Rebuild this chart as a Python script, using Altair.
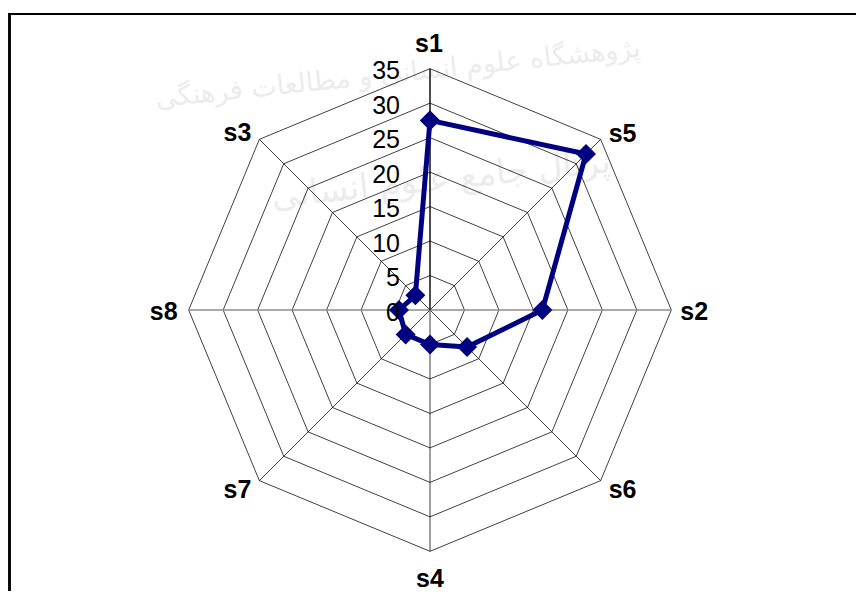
import altair as alt
import pandas as pd

# ---- data ----
categories = ["s1", "s5", "s2", "s6", "s4", "s7", "s8", "s3"]
values = [27.5, 32, 16.3, 7.6, 5, 5, 4.5, 3]
ticks = [0, 5, 10, 15, 20, 25, 30, 35]
watermark_lines = ["پژوهشگاه علوم انسانی و مطالعات فرهنگی", "پرتال جامع علوم انسانی"]

N = len(categories)
R = max(ticks)

# ---- geometry of the canvas (pixels per data unit, centre) ----
K = 6.895
W, H = 848, 583
CX, CY = 422, 302
xs = alt.Scale(domain=[-CX / K, (W - CX) / K], nice=False, zero=False)
ys = alt.Scale(domain=[-(H - CY) / K, CY / K], nice=False, zero=False)

FONT = "Liberation Sans"
NAVY = "#000080"

ang = f"2*PI*datum.i/{N}"


def polar(chart, rfield):
    return chart.transform_calculate(
        a=ang
    ).transform_calculate(
        x=f"datum.{rfield}*sin(datum.a)", y=f"datum.{rfield}*cos(datum.a)"
    )


X = alt.X("x:Q", scale=xs, axis=None)
Y = alt.Y("y:Q", scale=ys, axis=None)

# rings (octagons)
ring_rows = [{"r": t, "i": i} for t in ticks if t > 0 for i in range(N + 1)]
rings = polar(alt.Chart(pd.DataFrame(ring_rows)), "r").mark_line(
    stroke="#000000", strokeWidth=0.75
).encode(x=X, y=Y, detail="r:N", order="i:Q")

# spokes
spoke_df = pd.DataFrame({"cat": categories, "i": list(range(N)), "r": [R] * N})


def spokes(filt, color, width):
    return polar(alt.Chart(spoke_df), "r").transform_filter(filt).transform_calculate(
        x0="0", y0="0"
    ).mark_rule(stroke=color, strokeWidth=width).encode(
        x=alt.X("x0:Q", scale=xs, axis=None),
        y=alt.Y("y0:Q", scale=ys, axis=None),
        x2="x:Q",
        y2="y:Q",
    )


spk_thin = spokes(f"datum.i % 2 == 1 || datum.i == {N // 2}", "#000000", 0.75)
spk_h = spokes(f"datum.i == {N // 4} || datum.i == {3 * N // 4}", "#8c8c8c", 1.6)
spk_v = spokes("datum.i == 0", "#000000", 1.4)

# series (closed polygon)
ser_df = pd.DataFrame({
    "cat": categories + [categories[0]],
    "v": values + [values[0]],
    "i": list(range(N)) + [N],
})
line = polar(alt.Chart(ser_df), "v").mark_line(
    color=NAVY, strokeWidth=5, strokeJoin="round"
).encode(x=X, y=Y, order="i:Q")
pts = polar(alt.Chart(ser_df), "v").mark_point(
    shape="diamond", filled=True, size=400, color=NAVY, opacity=1
).encode(x=X, y=Y)

# value labels
tick_df = pd.DataFrame({"t": ticks})
tick_lbl = alt.Chart(tick_df).transform_calculate(x="0").mark_text(
    align="right", baseline="alphabetic", dx=-30, dy=10.5, fontSize=25,
    font=FONT, color="#000000"
).encode(x=alt.X("x:Q", scale=xs, axis=None),
         y=alt.Y("t:Q", scale=ys, axis=None), text="t:Q")

# category labels: (align, dx, dy) per label, styling only
lab_style = {
    "s1": ("center", -1, -17),
    "s5": ("left", 8, 2.5),
    "s2": ("left", 9, 9.5),
    "s6": ("left", 8, 17),
    "s4": ("center", 0, 36),
    "s7": ("right", -8, 17),
    "s8": ("right", -11, 10),
    "s3": ("right", -8, 2),
}
cat_layers = []
for c in categories:
    al, dx, dy = lab_style[c]
    cat_layers.append(
        polar(alt.Chart(spoke_df), "r").transform_filter(f"datum.cat == '{c}'").mark_text(
            align=al, baseline="alphabetic", dx=dx, dy=dy, fontSize=25,
            fontWeight="bold", font=FONT, color="#000000"
        ).encode(x=X, y=Y, text="cat:N")
    )

# faint watermark of the source page
wm_df = pd.DataFrame({"w": watermark_lines, "k": [0, 1]})
wm1 = alt.Chart(wm_df).transform_filter("datum.k == 0").mark_text(
    font="DejaVu Sans", fontSize=27, color="#ececec", angle=354
).encode(x=alt.value(390), y=alt.value(66), text="w:N")
wm2 = alt.Chart(wm_df).transform_filter("datum.k == 1").mark_text(
    font="DejaVu Sans", fontSize=34, color="#ececec", angle=354
).encode(x=alt.value(433), y=alt.value(172), text="w:N")

# frame (top and left edges of the pasted chart border)
frame_top = alt.Chart(tick_df).mark_rule(stroke="#000000", strokeWidth=1.6).encode(
    x=alt.value(0), x2=alt.value(W), y=alt.value(6)
)
frame_left = alt.Chart(tick_df).mark_rule(stroke="#000000", strokeWidth=1.6).encode(
    x=alt.value(1.5), y=alt.value(6), y2=alt.value(H)
)

chart = alt.layer(
    wm1, wm2, rings, spk_thin, spk_h, spk_v, line, pts, tick_lbl, *cat_layers,
    frame_top, frame_left
).properties(
    width=W, height=H, padding=0, autosize="none"
).configure_view(stroke=None)

chart.save("out.html", embed_options={"renderer": "svg", "actions": False})
